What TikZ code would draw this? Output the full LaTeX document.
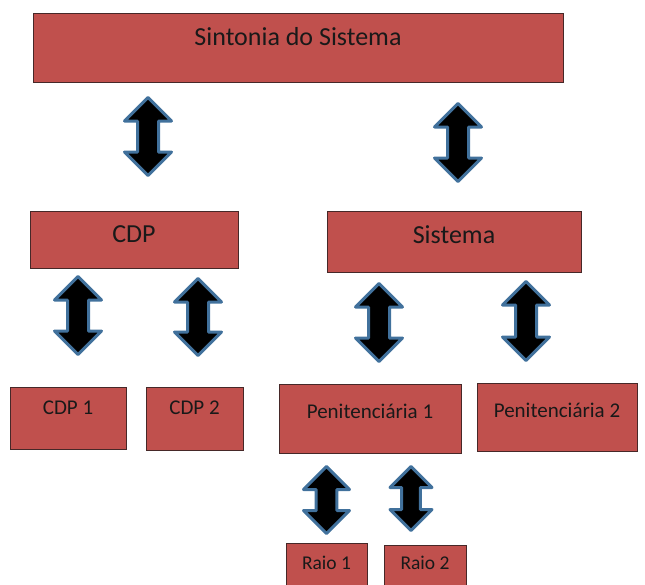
\documentclass[tikz,border=0pt]{standalone}
\usepackage{fontspec}
\setmainfont{Carlito}
\usepackage{tikz}

\definecolor{boxred}{HTML}{C0504D}
\definecolor{boxline}{RGB}{70,40,40}
\definecolor{arrowblue}{HTML}{41719C}

\tikzset{
    box/.style={rectangle, draw=boxline, fill=boxred, line width=1pt, inner sep=0pt},
    lbl/.style={anchor=base, inner sep=0pt, text=black!90},
    big/.style={lbl, font=\fontsize{26}{30}\selectfont},
    small/.style={lbl, font=\fontsize{21}{25}\selectfont},
    tiny/.style={lbl, font=\fontsize{19.5}{23}\selectfont},
    blockarrow/.style={fill=black, draw=arrowblue, line width=3pt, line join=round},
    pics/updown/.style 2 args={code={
        \pgfmathsetmacro\arlen{#1/2-1.5}
        \pgfmathsetmacro\arwid{#2/2-1.5}
        \pgfmathsetmacro\arsh{0.24*#2-1.5}
        \pgfmathsetmacro\arbase{\arlen-\arwid}
        \path[blockarrow] (0,-\arlen) -- (\arwid,-\arbase) -- (\arsh,-\arbase)
            -- (\arsh,\arbase) -- (\arwid,\arbase) -- (0,\arlen)
            -- (-\arwid,\arbase) -- (-\arsh,\arbase) -- (-\arsh,-\arbase)
            -- (-\arwid,-\arbase) -- cycle;
    }}
}

\begin{document}
\begin{tikzpicture}[x=1pt, y=-1pt]
    \useasboundingbox (0,0) rectangle (645,584);

    % boxes
    \node[box, minimum width=530, minimum height=69] (sint) at (298,47.5) {};
    \node[box, minimum width=208, minimum height=57] (cdp) at (134,239.5) {};
    \node[box, minimum width=254, minimum height=61] (sis) at (454,241.5) {};
    \node[box, minimum width=116, minimum height=62] (cdp1) at (68,418) {};
    \node[box, minimum width=97, minimum height=63] (cdp2) at (194.5,418.5) {};
    \node[box, minimum width=182, minimum height=69] (pen1) at (370,418.5) {};
    \node[box, minimum width=160, minimum height=68] (pen2) at (557,417) {};
    \node[box, minimum width=81, minimum height=60] (raio1) at (326.5,573) {};
    \node[box, minimum width=82, minimum height=60] (raio2) at (425,575) {};

    % texts
    \node[big] (tsint) at (298,45) {Sintonia do Sistema};
    \node[big] (tcdp) at (134,242) {CDP};
    \node[big] (tsis) at (454,243) {Sistema};
    \node[small] (tcdp1) at (68,414) {CDP 1};
    \node[small] (tcdp2) at (194.5,414) {CDP 2};
    \node[small] (tpen1) at (370,418) {Penitenciária 1};
    \node[small] (tpen2) at (557,417) {Penitenciária 2};
    \node[tiny] (traio1) at (326.5,569) {Raio 1};
    \node[tiny] (traio2) at (425,569) {Raio 2};

    % arrows
    \pic (a1) at (148,136.5) {updown={81}{50}};
    \pic (a2) at (458,142.5) {updown={81}{50}};
    \pic (a3) at (78,315.5) {updown={81}{50}};
    \pic (a4) at (198,317) {updown={80}{50}};
    \pic (a5) at (379,322.5) {updown={81}{50}};
    \pic (a6) at (526,321) {updown={82}{50}};
    \pic (a7) at (326.5,500) {updown={70}{49}};
    \pic (a8) at (411,498.5) {updown={67}{45}};
\end{tikzpicture}
\end{document}
